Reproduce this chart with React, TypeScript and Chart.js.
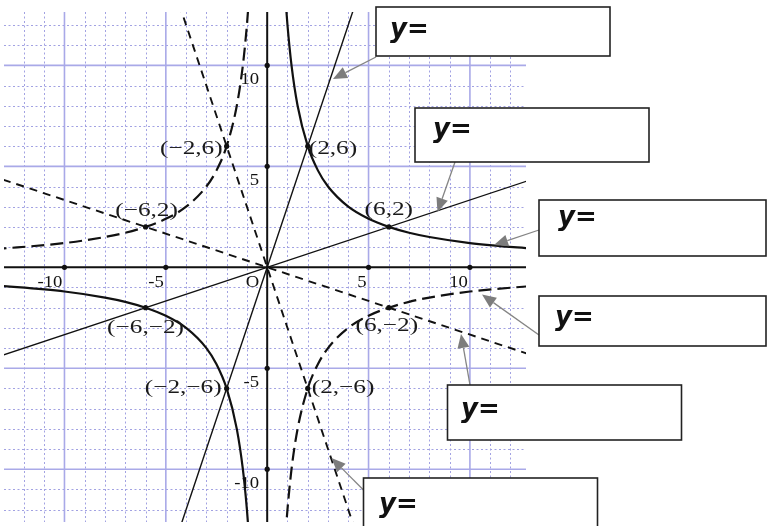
import React, { useEffect, useRef } from "react";
import { Chart, registerables } from "chart.js";

Chart.register(...registerables);

// y = 12/x (solid hyperbola), quadrant I and III
const hypQ1X = [0.9, 1, 1.2, 1.5, 2, 2.5, 3, 4, 5, 6, 7, 8, 10, 13.5];
const hypQ1Y = [13.33, 12, 10, 8, 6, 4.8, 4, 3, 2.4, 2, 1.71, 1.5, 1.2, 0.89];
const hypQ3X = [-13.5, -10, -8, -7, -6, -5, -4, -3, -2.5, -2, -1.5, -1.2, -1, -0.9];
const hypQ3Y = [-0.89, -1.2, -1.5, -1.71, -2, -2.4, -3, -4, -4.8, -6, -8, -10, -12, -13.33];

// y = -12/x (dashed hyperbola), quadrant II and IV
const negQ2X = [-13.5, -10, -8, -7, -6, -5, -4, -3, -2.5, -2, -1.5, -1.2, -1, -0.9];
const negQ2Y = [0.89, 1.2, 1.5, 1.71, 2, 2.4, 3, 4, 4.8, 6, 8, 10, 12, 13.33];
const negQ4X = [0.9, 1, 1.2, 1.5, 2, 2.5, 3, 4, 5, 6, 7, 8, 10, 13.5];
const negQ4Y = [-13.33, -12, -10, -8, -6, -4.8, -4, -3, -2.4, -2, -1.71, -1.5, -1.2, -0.89];

// straight lines
const line3xX = [-5, 5];
const line3xY = [-15, 15];
const lineThirdX = [-15, 15];
const lineThirdY = [-5, 5];
const lineNeg3xX = [-5, 5];
const lineNeg3xY = [15, -15];
const lineNegThirdX = [-15, 15];
const lineNegThirdY = [5, -5];

// marked intersection points
const ptX = [2, -2, -6, 6, -6, 6, -2, 2];
const ptY = [6, 6, 2, 2, -2, -2, -6, -6];
const ptLabels = ["(2,6)", "(\u22122,6)", "(\u22126,2)", "(6,2)", "(\u22126,\u22122)", "(6,\u22122)", "(\u22122,\u22126)", "(2,\u22126)"];

// axis ticks
const tickValues = [-10, -5, 5, 10];
const xTickLabels = ["-10", "-5", "5", "10"];
const yTickLabels = ["-10", "-5", "5", "10"];
const originLabel = "O";
const boxText = "y=";

// label placement (style only)
const ptLabelPlace: { align: CanvasTextAlign; dx: number; dy: number }[] = [
  { align: "left", dx: 1, dy: 3 },
  { align: "right", dx: -4, dy: 3 },
  { align: "center", dx: 1, dy: -16 },
  { align: "center", dx: 0, dy: -17 },
  { align: "center", dx: 0, dy: 20 },
  { align: "center", dx: -2, dy: 18 },
  { align: "right", dx: -5, dy: 0 },
  { align: "left", dx: 4, dy: 0 },
];

// annotation boxes (pixel layout)
const boxes = [
  { x: 376, y: 7, w: 234, h: 49, tx: 390, ty: 30 },
  { x: 415, y: 108, w: 234, h: 54, tx: 433, ty: 130 },
  { x: 539, y: 200, w: 227, h: 56, tx: 558, ty: 218 },
  { x: 539, y: 296, w: 227, h: 50, tx: 555, ty: 318 },
  { x: 447.5, y: 385, w: 234, h: 55, tx: 461, ty: 410 },
  { x: 363.5, y: 478, w: 234, h: 70, tx: 379, ty: 505 },
];
const arrows = [
  { x1: 376, y1: 57, x2: 333, y2: 79 },
  { x1: 455, y1: 162, x2: 437.5, y2: 212 },
  { x1: 539, y1: 230, x2: 494, y2: 245 },
  { x1: 539, y1: 335, x2: 482, y2: 294.5 },
  { x1: 470, y1: 385, x2: 461, y2: 334 },
  { x1: 363.5, y1: 490, x2: 331.5, y2: 458 },
];

const pts = (xs: number[], ys: number[]) => xs.map((x, i) => ({ x, y: ys[i] }));

function stretchedText(ctx: CanvasRenderingContext2D, text: string, x: number, y: number, align: CanvasTextAlign, sx: number) {
  ctx.save();
  ctx.translate(x, y);
  ctx.scale(sx, 1);
  ctx.textAlign = align;
  ctx.fillText(text, 0, 0);
  ctx.restore();
}

const gridPlugin = {
  id: "mathGrid",
  beforeDatasetsDraw(chart: any) {
    const { ctx, chartArea, scales } = chart;
    const xs = scales.x;
    const ys = scales.y;
    const { left, right, top, bottom } = chartArea;
    ctx.save();
    // minor dotted grid
    ctx.strokeStyle = "#a2a2e2";
    ctx.lineWidth = 1;
    ctx.setLineDash([2, 2.5]);
    for (let v = Math.ceil(xs.min); v <= xs.max; v++) {
      if (v % 5 === 0) continue;
      const px = Math.round(xs.getPixelForValue(v)) + 0.5;
      ctx.beginPath();
      ctx.moveTo(px, top);
      ctx.lineTo(px, bottom);
      ctx.stroke();
    }
    for (let v = Math.ceil(ys.min); v <= ys.max; v++) {
      if (v % 5 === 0) continue;
      const py = Math.round(ys.getPixelForValue(v)) + 0.5;
      ctx.beginPath();
      ctx.moveTo(left, py);
      ctx.lineTo(right, py);
      ctx.stroke();
    }
    // major grid
    ctx.setLineDash([]);
    ctx.strokeStyle = "#a9a9e8";
    ctx.lineWidth = 1.6;
    for (const v of tickValues) {
      const px = xs.getPixelForValue(v);
      ctx.beginPath();
      ctx.moveTo(px, top);
      ctx.lineTo(px, bottom);
      ctx.stroke();
      const py = ys.getPixelForValue(v);
      ctx.beginPath();
      ctx.moveTo(left, py);
      ctx.lineTo(right, py);
      ctx.stroke();
    }
    // axes
    const ox = xs.getPixelForValue(0);
    const oy = ys.getPixelForValue(0);
    ctx.strokeStyle = "#111";
    ctx.lineWidth = 2;
    ctx.beginPath();
    ctx.moveTo(left, oy);
    ctx.lineTo(right, oy);
    ctx.moveTo(ox, top);
    ctx.lineTo(ox, bottom);
    ctx.stroke();
    // tick dots and labels
    ctx.fillStyle = "#111";
    ctx.font = "17px 'Liberation Serif', serif";
    ctx.textBaseline = "middle";
    tickValues.forEach((v, i) => {
      const px = xs.getPixelForValue(v);
      const py = ys.getPixelForValue(v);
      ctx.beginPath();
      ctx.arc(px, oy, 2.6, 0, Math.PI * 2);
      ctx.fill();
      ctx.beginPath();
      ctx.arc(ox, py, 2.6, 0, Math.PI * 2);
      ctx.fill();
      stretchedText(ctx, xTickLabels[i], px - 2, oy + 15, "right", 1.1);
      stretchedText(ctx, yTickLabels[i], ox - 8, py + 14.5, "right", 1.1);
    });
    stretchedText(ctx, originLabel, ox - 8, oy + 15, "right", 1.1);
    ctx.restore();
  },
  afterDatasetsDraw(chart: any) {
    const { ctx, scales } = chart;
    ctx.save();
    ctx.fillStyle = "#1a1a1a";
    ctx.font = "19px 'Liberation Serif', serif";
    ctx.textBaseline = "middle";
    ptX.forEach((v, i) => {
      const px = scales.x.getPixelForValue(v);
      const py = scales.y.getPixelForValue(ptY[i]);
      const p = ptLabelPlace[i];
      stretchedText(ctx, ptLabels[i], px + p.dx, py + p.dy, p.align, 1.33);
    });
    ctx.restore();
  },
  afterDraw(chart: any) {
    const { ctx } = chart;
    ctx.save();
    // arrows
    for (const a of arrows) {
      const ang = Math.atan2(a.y2 - a.y1, a.x2 - a.x1);
      const len = 14;
      const hw = 6;
      const bx = a.x2 - len * Math.cos(ang);
      const by = a.y2 - len * Math.sin(ang);
      ctx.strokeStyle = "#858585";
      ctx.lineWidth = 1.3;
      ctx.beginPath();
      ctx.moveTo(a.x1, a.y1);
      ctx.lineTo(bx, by);
      ctx.stroke();
      ctx.fillStyle = "#7d7d7d";
      ctx.beginPath();
      ctx.moveTo(a.x2, a.y2);
      ctx.lineTo(bx + hw * Math.sin(ang), by - hw * Math.cos(ang));
      ctx.lineTo(bx - hw * Math.sin(ang), by + hw * Math.cos(ang));
      ctx.closePath();
      ctx.fill();
    }
    // boxes
    for (const b of boxes) {
      ctx.fillStyle = "#ffffff";
      ctx.fillRect(b.x, b.y, b.w, b.h);
      ctx.strokeStyle = "#222";
      ctx.lineWidth = 1.6;
      ctx.strokeRect(b.x, b.y, b.w, b.h);
      ctx.fillStyle = "#111";
      ctx.font = "italic bold 26px 'DejaVu Sans', sans-serif";
      ctx.textBaseline = "middle";
      ctx.textAlign = "left";
      ctx.fillText(boxText, b.tx, b.ty);
    }
    ctx.restore();
  },
};

export default function App() {
  const ref = useRef<HTMLCanvasElement | null>(null);
  useEffect(() => {
    if (!ref.current) return;
    const solid = { borderColor: "#111", pointRadius: 0, showLine: true, fill: false, clip: 0 };
    const chart = new Chart(ref.current, {
      type: "scatter",
      data: {
        datasets: [
          { ...solid, data: pts(hypQ1X, hypQ1Y), borderWidth: 2.2, cubicInterpolationMode: "monotone" },
          { ...solid, data: pts(hypQ3X, hypQ3Y), borderWidth: 2.2, cubicInterpolationMode: "monotone" },
          { ...solid, data: pts(negQ2X, negQ2Y), borderWidth: 2.2, borderDash: [13, 6], cubicInterpolationMode: "monotone" },
          { ...solid, data: pts(negQ4X, negQ4Y), borderWidth: 2.2, borderDash: [13, 6], cubicInterpolationMode: "monotone" },
          { ...solid, data: pts(line3xX, line3xY), borderWidth: 1.4 },
          { ...solid, data: pts(lineThirdX, lineThirdY), borderWidth: 1.4 },
          { ...solid, data: pts(lineNeg3xX, lineNeg3xY), borderWidth: 1.9, borderDash: [8, 6] },
          { ...solid, data: pts(lineNegThirdX, lineNegThirdY), borderWidth: 1.9, borderDash: [8, 6] },
          {
            data: pts(ptX, ptY),
            showLine: false,
            pointRadius: 2.6,
            pointBackgroundColor: "#111",
            pointBorderWidth: 0,
            borderColor: "#111",
          },
        ],
      } as any,
      options: {
        animation: false,
        responsive: false,
        maintainAspectRatio: false,
        events: [],
        layout: { padding: { left: 2, top: 12, right: 242, bottom: 0 } },
        plugins: { legend: { display: false }, tooltip: { enabled: false } },
        scales: {
          x: { type: "linear", min: (2 - 266.2) / 20.35, max: (526 - 266.2) / 20.35, display: false },
          y: { type: "linear", min: (269.3 - 526) / 20.35, max: (269.3 - 12) / 20.35, display: false },
        },
      } as any,
      plugins: [gridPlugin],
    });
    return () => chart.destroy();
  }, []);
  return (
    <div style={{ position: "absolute", left: 0, top: 0, width: 768, height: 526, background: "#fff" }}>
      <canvas ref={ref} width={768} height={526} style={{ display: "block" }} />
    </div>
  );
}
